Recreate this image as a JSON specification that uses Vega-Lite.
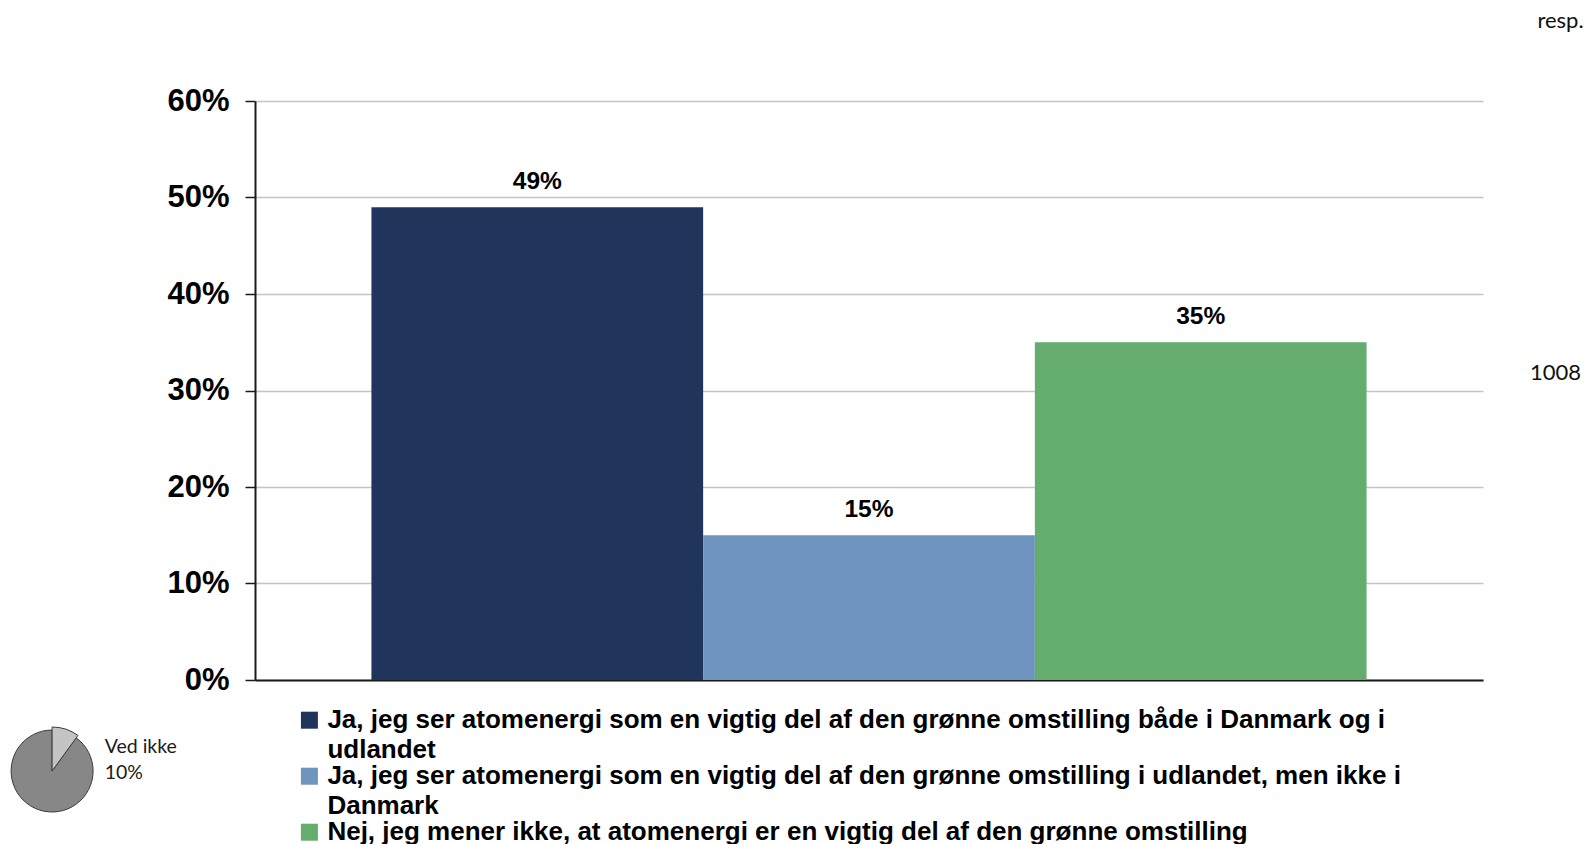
{
  "$schema": "https://vega.github.io/schema/vega-lite/v6.json",
  "background": "white",
  "autosize": {"type": "pad"},
  "padding": {"left": 8, "top": 10, "right": 0, "bottom": 0},
  "columns": 1,
  "align": "none",
  "spacing": 30,
  "concat": [
    {
      "hconcat": [
        {
          "width": 1228,
          "height": 579,
          "data": {
            "values": [
              {"svar": "Ja, jeg ser atomenergi som en vigtig del af den grønne omstilling både i Danmark og i udlandet", "andel": 0.49},
              {"svar": "Ja, jeg ser atomenergi som en vigtig del af den grønne omstilling i udlandet, men ikke i Danmark", "andel": 0.15},
              {"svar": "Nej, jeg mener ikke, at atomenergi er en vigtig del af den grønne omstilling", "andel": 0.35}
            ]
          },
          "encoding": {
            "x": {
              "field": "svar",
              "type": "nominal",
              "sort": null,
              "scale": {"paddingInner": 0, "paddingOuter": 0.351},
              "axis": {"labels": false, "ticks": false, "title": null, "grid": false, "domainColor": "#1a1a1a", "domainWidth": 2, "minExtent": 0, "maxExtent": 0}
            },
            "y": {
              "field": "andel",
              "type": "quantitative",
              "scale": {"domain": [0, 0.6], "nice": false},
              "axis": {
                "title": null,
                "values": [0, 0.1, 0.2, 0.3, 0.4, 0.5, 0.6],
                "format": ".0%",
                "labelFont": "Liberation Sans",
                "labelFontSize": 31,
                "labelFontWeight": "bold",
                "labelColor": "#000000",
                "labelPadding": 16,
                "tickSize": 10,
                "tickColor": "#1a1a1a",
                "tickWidth": 1.5,
                "domainColor": "#1a1a1a",
                "domainWidth": 2,
                "grid": true,
                "gridColor": "#c4c4c4",
                "gridWidth": 1.5,
                "minExtent": 244,
                "maxExtent": 244
              }
            }
          },
          "layer": [
            {
              "mark": {"type": "bar"},
              "encoding": {
                "color": {
                  "field": "svar",
                  "type": "nominal",
                  "sort": null,
                  "scale": {"range": ["#21345c", "#6e94bf", "#65ad6e"]},
                  "legend": {
                    "orient": "none",
                    "legendX": 41.4,
                    "legendY": 606.2,
                    "title": null,
                    "direction": "vertical",
                    "padding": 0,
                    "symbolType": "square",
                    "symbolSize": 289,
                    "symbolStrokeWidth": 0,
                    "symbolOpacity": 1,
                    "labelFont": "Liberation Sans",
                    "labelFontSize": 26,
                    "labelFontWeight": "bold",
                    "labelColor": "#000000",
                    "labelOffset": 5,
                    "labelLimit": 1400,
                    "rowPadding": 0,
                    "labelExpr": "split(replace(replace(datum.label, ' og i udlandet', ' og i\\nudlandet'), 'ikke i Danmark', 'ikke i\\nDanmark'), '\\n')"
                  }
                }
              }
            },
            {
              "mark": {"type": "text", "baseline": "alphabetic", "dy": -18, "font": "Liberation Sans", "fontSize": 24.5, "fontWeight": "bold", "color": "#000000"},
              "encoding": {"text": {"field": "andel", "type": "quantitative", "format": ".0%"}}
            }
          ]
        },
        {
          "width": 56,
          "height": 579,
          "title": {"text": "resp.", "font": "Lato", "fontSize": 22, "fontWeight": "normal", "color": "#111111", "anchor": "middle", "offset": 51, "baseline": "alphabetic"},
          "data": {"values": [{"n": 1008}]},
          "mark": {"type": "text", "font": "Lato", "fontSize": 22, "color": "#111111", "baseline": "middle", "dy": -18, "dx": -5},
          "encoding": {"text": {"field": "n", "type": "quantitative", "format": "d"}}
        }
      ],
      "spacing": 49.5,
      "bounds": "flush"
    },
    {
      "width": 82,
      "height": 82,
      "data": {
        "values": [
          {"svar": "Ved ikke", "andel": 0.10},
          {"svar": "Øvrige svar", "andel": 0.90}
        ]
      },
      "layer": [
        {
          "mark": {"type": "arc", "xOffset": -243.9, "outerRadius": 41, "fill": "#878787", "stroke": "#3c3c3c", "strokeWidth": 1},
          "encoding": {
            "theta": {"field": "andel", "type": "quantitative", "stack": true},
            "opacity": {"condition": {"test": "datum.svar === 'Ved ikke'", "value": 0}, "value": 1}
          }
        },
        {
          "mark": {"type": "arc", "xOffset": -243.9, "outerRadius": 44, "fill": "#c4c4c4", "stroke": "#3c3c3c", "strokeWidth": 1},
          "encoding": {
            "theta": {"field": "andel", "type": "quantitative", "stack": true},
            "opacity": {"condition": {"test": "datum.svar === 'Ved ikke'", "value": 1}, "value": 0}
          }
        },
        {
          "transform": [{"filter": "datum.svar === 'Ved ikke'"}],
          "mark": {"type": "text", "xOffset": -243.9, "align": "left", "baseline": "middle", "dx": 52.6, "dy": -23.8, "font": "Lato", "fontSize": 19.5, "color": "#1a1a1a"},
          "encoding": {"text": {"field": "svar", "type": "nominal"}}
        },
        {
          "transform": [{"filter": "datum.svar === 'Ved ikke'"}],
          "mark": {"type": "text", "xOffset": -243.9, "align": "left", "baseline": "middle", "dx": 52.6, "dy": 1.5, "font": "Lato", "fontSize": 19.5, "color": "#1a1a1a"},
          "encoding": {"text": {"field": "andel", "type": "quantitative", "format": ".0%"}}
        }
      ]
    }
  ],
  "config": {
    "view": {"stroke": null},
    "font": "Liberation Sans",
    "style": {"guide-label": {"lineHeight": 30}}
  }
}
